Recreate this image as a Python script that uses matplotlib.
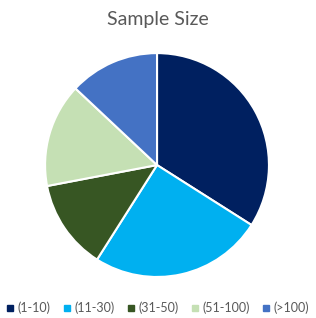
import matplotlib.pyplot as plt
from matplotlib.lines import Line2D

labels = ["(1-10)", "(11-30)", "(31-50)", "(51-100)", "(>100)"]
values = [34, 25, 13, 15, 13]
colors = ["#002060", "#00B0F0", "#375623", "#C5E0B4", "#4472C4"]

plt.rcParams["font.family"] = ["Lato", "DejaVu Sans"]

fig = plt.figure(figsize=(3.16, 3.18), dpi=100)
ax = fig.add_axes([0.1424, 0.129, 0.709, 0.704])
ax.pie(values, colors=colors, startangle=90, counterclock=False,
       radius=1, wedgeprops=dict(edgecolor="white", linewidth=1.5))
ax.set_xlim(-1, 1)
ax.set_ylim(-1, 1)
ax.set_aspect("equal")
ax.axis("off")

fig.text(0.5, 1 - 20 / 318, "Sample Size", ha="center", va="center",
         fontsize=14, color="#595959")

handles = [Line2D([], [], marker="s", linestyle="none", markersize=4.5,
                  markerfacecolor=c, markeredgecolor=c) for c in colors]
fig.legend(handles, labels, loc="center", bbox_to_anchor=(0.5, 10 / 318),
           ncol=5, frameon=False, fontsize=9, labelcolor="#595959",
           handlelength=0.5, handletextpad=0.35, columnspacing=1.05,
           borderaxespad=0, borderpad=0)

fig.savefig("out.png", dpi=100)
